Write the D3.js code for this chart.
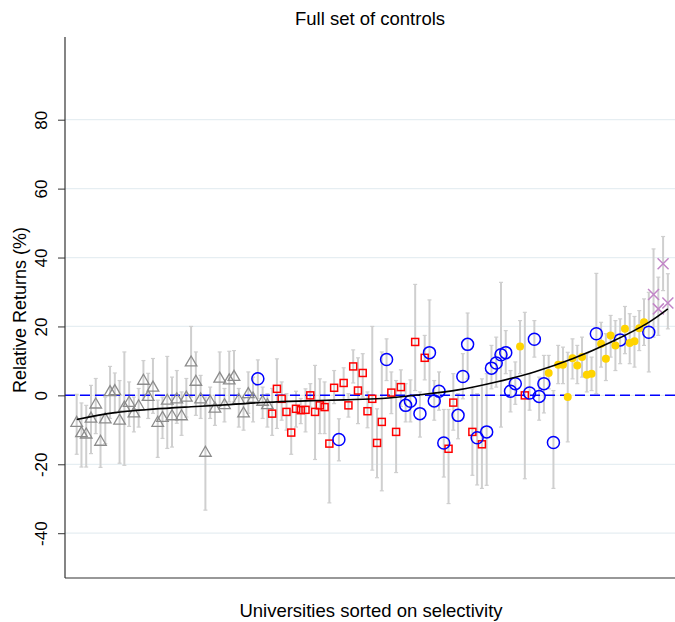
<!DOCTYPE html>
<html>
<head>
<meta charset="utf-8">
<script src="https://cdn.jsdelivr.net/npm/d3@7"></script>
<style>
  body { margin: 0; background: #fff; }
  text { font-family: "Liberation Sans", Arial, sans-serif; fill: #000; }
</style>
</head>
<body>
<svg id="chart" width="675" height="622"></svg>
<script>
// [rank, estimate, lower, upper]
const triangles = [
  [1, -8.0, -17.1, 0.3], [2, -11.0, -20.8, -2.2], [3, -11.4, -20.8, -2.9],
  [4, -6.8, -16.9, 2.9], [5, -2.7, -11.1, 4.9], [6, -13.5, -20.9, -5.8],
  [7, -7.0, -14.0, -0.5], [8, 0.9, -6.7, 8.4], [9, 1.2, -5.2, 6.5],
  [10, -7.4, -19.7, 4.3], [11, -3.6, -20.3, 12.6], [12, -2.2, -9.0, 3.9],
  [13, -5.3, -10.6, -0.5], [14, -3.2, -9.2, 2.0], [15, 4.2, -1.4, 10.1],
  [16, -0.5, -6.7, 6.4], [17, 2.2, -5.2, 10.7], [18, -8.0, -18.0, -1.4],
  [19, -6.6, -12.5, -0.5], [20, -1.6, -15.4, 11.3], [21, -6.1, -15.0, 5.3],
  [22, -1.2, -8.1, 7.2], [23, -6.1, -11.6, 1.0], [24, -0.7, -6.3, 4.9],
  [25, 9.5, -0.5, 20.0], [26, 3.9, -5.8, 12.6], [27, -1.2, -6.7, 5.8],
  [28, -16.7, -33.3, -0.5], [29, -1.9, -6.7, 2.4], [30, -3.9, -8.7, 0.0],
  [31, 4.8, -3.2, 12.6], [32, -2.9, -7.7, 2.0], [33, 4.3, -1.9, 12.8],
  [34, 5.3, -1.9, 13.0], [35, -1.4, -9.2, 2.0], [36, -5.3, -10.1, -0.9],
  [37, 0.3, -5.2, 6.8], [38, -1.0, -7.7, 5.3], [40, -1.9, -6.7, 2.4],
  [41, -2.9, -9.2, 0.5]
];

const squares = [
  [42, -5.3, -11.6, 2.0], [43, 1.9, -9.6, 10.6], [44, -1.0, -7.2, 3.9],
  [45, -4.8, -10.1, 0.5], [46, -10.8, -17.1, -4.3], [47, -3.9, -9.2, 1.2],
  [48, -4.3, -8.2, -0.9], [49, -4.2, -10.6, 1.9], [50, 0.0, -3.4, 3.4],
  [51, -4.8, -18.6, 8.7], [52, -2.9, -11.1, 4.8], [53, -3.4, -11.1, 3.9],
  [54, -14.0, -31.2, -1.4], [55, 2.2, -2.4, 7.2], [57, 3.6, -1.4, 8.0],
  [58, -2.9, -6.3, 0.5], [59, 8.4, 3.6, 13.2], [60, 1.4, -8.2, 10.9],
  [61, 6.5, -0.5, 12.1], [62, -4.6, -9.4, 1.0], [63, -1.0, -21.7, 20.0],
  [64, -13.8, -23.9, -3.9], [65, -7.7, -27.7, 12.6], [67, 0.8, -5.3, 6.8],
  [68, -10.6, -22.4, 4.3], [69, 2.4, -3.2, 7.4], [72, 15.5, 1.4, 32.2],
  [74, 10.9, 4.5, 17.4], [79, -15.5, -31.4, -4.1], [80, -2.1, -10.1, 6.3],
  [84, -10.6, -23.2, 1.9], [86, -14.2, -27.0, 4.8], [95, 0.0, -24.2, 24.1]
];

const circles = [
  [39, 4.8, -0.9, 10.3], [56, -12.8, -19.0, -6.8], [66, 10.4, 4.3, 16.4],
  [70, -2.9, -7.7, 3.4], [71, -1.7, -7.7, 4.5], [73, -5.3, -12.1, 1.0],
  [75, 12.4, -0.5, 27.7], [76, -1.6, -7.2, 4.3], [77, 1.2, -4.3, 6.8],
  [78, -13.8, -23.7, -4.1], [81, -5.8, -12.6, 0.5], [82, 5.5, -1.0, 12.1],
  [83, 14.8, 4.8, 23.9], [85, -12.3, -26.0, 0.5], [87, -10.6, -26.1, 6.3],
  [88, 7.9, 1.9, 14.5], [89, 9.4, 2.4, 16.9], [90, 11.8, -9.2, 32.8],
  [91, 12.4, 6.3, 18.8], [92, 1.2, -4.8, 7.2], [93, 3.4, -2.6, 9.7],
  [96, 0.7, -4.3, 6.3], [97, 16.3, 11.1, 21.7], [98, -0.3, -7.2, 5.3],
  [99, 3.4, -5.1, 11.6], [101, -13.7, -27.0, 1.4], [110, 17.9, 0.5, 35.4],
  [115, 16.1, 9.2, 22.2], [121, 18.3, 6.8, 29.9]
];

const dots = [
  [94, 14.2, 6.3, 21.7], [100, 6.5, 1.9, 11.6], [102, 8.9, 3.4, 14.5],
  [103, 8.9, 3.4, 14.0], [104, -0.5, -13.5, 12.5], [105, 10.8, 4.8, 16.4],
  [106, 8.7, 3.4, 14.5], [107, 11.1, 5.3, 16.9], [108, 6.0, 1.0, 12.1],
  [109, 6.3, 1.4, 11.1], [111, 15.0, 8.2, 21.2], [112, 10.6, 4.3, 17.9],
  [113, 17.4, 11.1, 23.2], [114, 14.5, 7.2, 21.7], [116, 19.3, 12.1, 25.8],
  [117, 15.2, 9.2, 23.7], [118, 15.7, 8.2, 22.9], [119, 19.5, 13.0, 24.6],
  [120, 21.2, 14.5, 28.0]
];

const crosses = [
  [122, 29.3, 16.9, 42.5], [123, 25.1, 17.4, 34.3],
  [124, 38.2, 30.4, 46.1], [125, 26.8, 19.3, 35.3]
];

const fitRanks = [1, 9, 17, 25, 33, 41, 49, 57, 65, 73, 81, 89, 97, 105, 113, 121, 125];
const fitValues = [-7.0, -5.0, -4.0, -3.3, -2.7, -2.0, -1.6, -1.3, -0.9, 0.2, 1.6, 3.9, 6.8, 10.6, 15.4, 21.2, 25.1];

const yTicks = [-40, -20, 0, 20, 40, 60, 80];

const margin = { top: 37, right: 0, bottom: 44, left: 65 };
const width = 675;
const height = 622;

const svg = d3.select("#chart");

const x = d3
  .scaleLinear()
  .domain([-1.45, 126.5])
  .range([margin.left, width - margin.right]);

const y = d3
  .scaleLinear()
  .domain([-53, 104])
  .range([height - margin.bottom, margin.top]);

// grid lines
svg
  .append("g")
  .selectAll("line")
  .data(yTicks)
  .enter()
  .append("line")
  .attr("x1", margin.left)
  .attr("x2", width - margin.right)
  .attr("y1", (d) => y(d))
  .attr("y2", (d) => y(d))
  .attr("stroke", "#e6eef2")
  .attr("stroke-width", 1.2);

const allPoints = [...triangles, ...squares, ...circles, ...dots, ...crosses];

// confidence intervals
const bars = svg.append("g").attr("stroke", "#cfcfcf").attr("stroke-width", 2);
bars
  .selectAll("line.ci")
  .data(allPoints)
  .enter()
  .append("line")
  .attr("class", "ci")
  .attr("x1", (d) => x(d[0]))
  .attr("x2", (d) => x(d[0]))
  .attr("y1", (d) => y(d[2]))
  .attr("y2", (d) => y(d[3]));
bars
  .selectAll("line.cap")
  .data(allPoints.flatMap((d) => [[d[0], d[2]], [d[0], d[3]]]))
  .enter()
  .append("line")
  .attr("class", "cap")
  .attr("stroke-width", 1.2)
  .attr("x1", (d) => x(d[0]) - 2)
  .attr("x2", (d) => x(d[0]) + 2)
  .attr("y1", (d) => y(d[1]))
  .attr("y2", (d) => y(d[1]));

// zero line
svg
  .append("line")
  .attr("x1", margin.left)
  .attr("x2", width - margin.right)
  .attr("y1", y(0))
  .attr("y2", y(0))
  .attr("stroke", "#0000ff")
  .attr("stroke-width", 1.5)
  .attr("stroke-dasharray", "10,5");

// markers
svg
  .append("g")
  .selectAll("path")
  .data(triangles)
  .enter()
  .append("path")
  .attr("d", d3.symbol(d3.symbolTriangle).size(58))
  .attr("transform", (d) => `translate(${x(d[0])},${y(d[1])})`)
  .attr("fill", "none")
  .attr("stroke", "#8c8c8c")
  .attr("stroke-width", 1.3);

svg
  .append("g")
  .selectAll("rect")
  .data(squares)
  .enter()
  .append("rect")
  .attr("x", (d) => x(d[0]) - 3.5)
  .attr("y", (d) => y(d[1]) - 3.5)
  .attr("width", 7)
  .attr("height", 7)
  .attr("fill", "none")
  .attr("stroke", "#ff0000")
  .attr("stroke-width", 1.5);

svg
  .append("g")
  .selectAll("circle")
  .data(circles)
  .enter()
  .append("circle")
  .attr("cx", (d) => x(d[0]))
  .attr("cy", (d) => y(d[1]))
  .attr("r", 6)
  .attr("fill", "none")
  .attr("stroke", "#0000ff")
  .attr("stroke-width", 1.5);

svg
  .append("g")
  .selectAll("circle")
  .data(dots)
  .enter()
  .append("circle")
  .attr("cx", (d) => x(d[0]))
  .attr("cy", (d) => y(d[1]))
  .attr("r", 4)
  .attr("fill", "#ffd400");

svg
  .append("g")
  .selectAll("path")
  .data(crosses)
  .enter()
  .append("path")
  .attr("d", (d) => {
    const cx = x(d[0]);
    const cy = y(d[1]);
    return `M${cx - 5.5},${cy - 5.5}L${cx + 5.5},${cy + 5.5}M${cx - 5.5},${cy + 5.5}L${cx + 5.5},${cy - 5.5}`;
  })
  .attr("stroke", "#c285c7")
  .attr("stroke-width", 1.5);

// fitted line
svg
  .append("path")
  .datum(fitRanks.map((r, i) => [r, fitValues[i]]))
  .attr("fill", "none")
  .attr("stroke", "#000")
  .attr("stroke-width", 1.6)
  .attr(
    "d",
    d3
      .line()
      .curve(d3.curveCatmullRom)
      .x((d) => x(d[0]))
      .y((d) => y(d[1]))
  );

// axes
const yAxis = svg
  .append("g")
  .attr("transform", `translate(${margin.left},0)`)
  .call(d3.axisLeft(y).tickValues(yTicks).tickSize(7).tickFormat((d) => d));
yAxis.select(".domain").remove();
yAxis.selectAll(".tick line").attr("stroke", "#333");
yAxis
  .selectAll(".tick text")
  .attr("x", 0)
  .attr("dy", 0)
  .attr("transform", "translate(-18,0) rotate(-90)")
  .attr("text-anchor", "middle")
  .style("font-size", "17px")
  .style("font-family", "Liberation Sans, Arial, sans-serif");

svg
  .append("line")
  .attr("x1", margin.left)
  .attr("x2", margin.left)
  .attr("y1", margin.top)
  .attr("y2", height - margin.bottom)
  .attr("stroke", "#333")
  .attr("stroke-width", 1.2);

svg
  .append("line")
  .attr("x1", margin.left)
  .attr("x2", width)
  .attr("y1", height - margin.bottom)
  .attr("y2", height - margin.bottom)
  .attr("stroke", "#333")
  .attr("stroke-width", 1.2);

// labels
svg
  .append("text")
  .attr("x", 370)
  .attr("y", 25)
  .attr("text-anchor", "middle")
  .style("font-size", "18.5px")
  .text("Full set of controls");

svg
  .append("text")
  .attr("x", 371)
  .attr("y", 617)
  .attr("text-anchor", "middle")
  .style("font-size", "18.5px")
  .text("Universities sorted on selectivity");

svg
  .append("text")
  .attr("transform", "translate(26,310) rotate(-90)")
  .attr("text-anchor", "middle")
  .style("font-size", "18px")
  .text("Relative Returns (%)");
</script>
</body>
</html>
